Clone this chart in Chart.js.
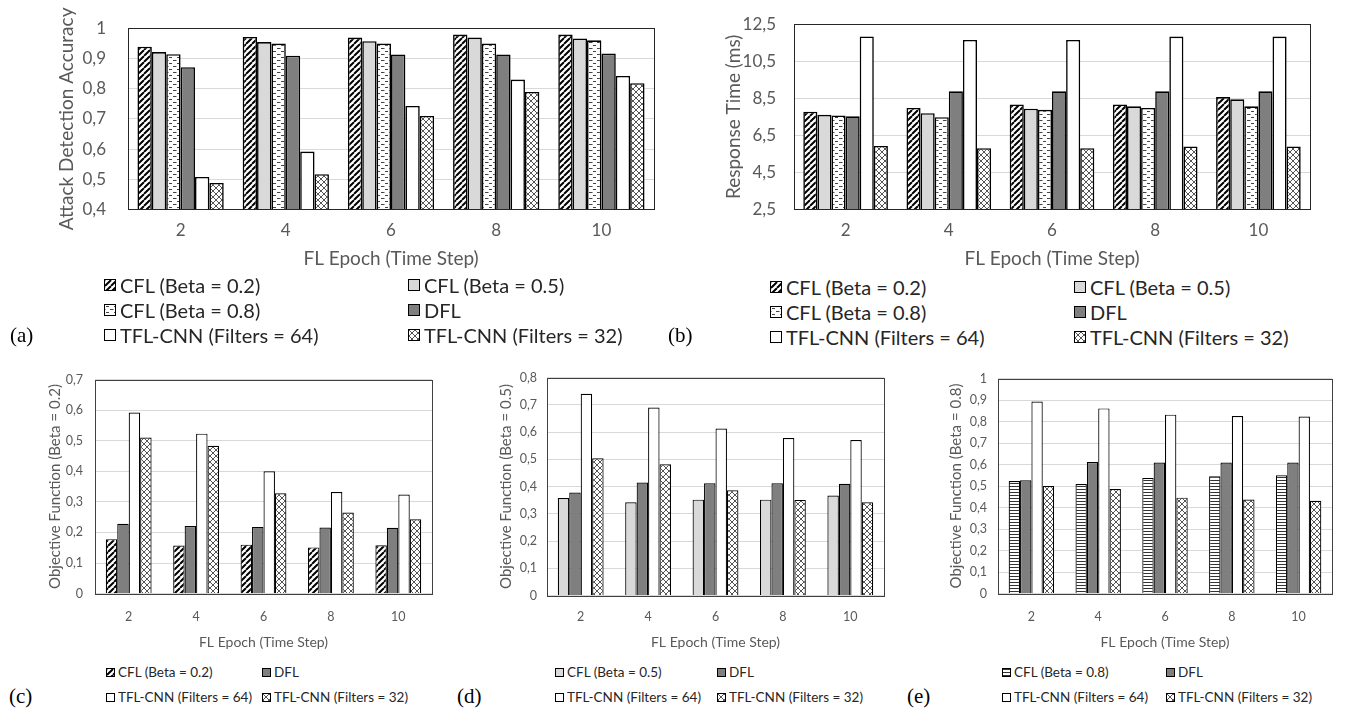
<!DOCTYPE html>
<html>
<head>
<meta charset="utf-8">
<script src="https://cdn.jsdelivr.net/npm/chart.js@4.4.1/dist/chart.umd.min.js"></script>
<style>
  html, body { margin: 0; padding: 0; background: #fff; }
  body { width: 1349px; height: 713px; position: relative; overflow: hidden; font-family: Lato, sans-serif; }
  canvas { position: absolute; }
  .leg { position: absolute; display: flex; align-items: center; white-space: nowrap; color: #262626; line-height: 1; }
  .sw { display: inline-block; box-sizing: border-box; border: 1.5px solid #000; background-repeat: repeat; }
  .tag { position: absolute; font-family: 'Liberation Serif', 'Times New Roman', serif; font-size: 21px; color: #000; line-height: 1; }
</style>
</head>
<body>
<script>
// ---------- data ----------
const epochs = ['2', '4', '6', '8', '10'];

// (a) attack detection accuracy
const accCfl02 = [0.939, 0.971, 0.969, 0.979, 0.979];
const accCfl05 = [0.921, 0.954, 0.957, 0.969, 0.966];
const accCfl08 = [0.914, 0.949, 0.949, 0.949, 0.960];
const accDfl   = [0.871, 0.909, 0.913, 0.913, 0.916];
const accTfl64 = [0.508, 0.592, 0.743, 0.830, 0.842];
const accTfl32 = [0.488, 0.517, 0.710, 0.789, 0.818];

// (b) response time (ms)
const rtCfl02 = [7.78, 7.98, 8.17, 8.17, 8.57];
const rtCfl05 = [7.61, 7.70, 7.94, 8.07, 8.45];
const rtCfl08 = [7.58, 7.48, 7.88, 7.98, 8.07];
const rtDfl   = [7.53, 8.88, 8.88, 8.88, 8.88];
const rtTfl64 = [11.84, 11.65, 11.65, 11.83, 11.83];
const rtTfl32 = [5.93, 5.81, 5.81, 5.91, 5.91];

// (c) objective function, beta = 0.2
const objCCfl   = [0.178, 0.157, 0.160, 0.151, 0.158];
const objCDfl   = [0.228, 0.221, 0.218, 0.216, 0.215];
const objCTfl64 = [0.592, 0.523, 0.400, 0.332, 0.324];
const objCTfl32 = [0.510, 0.483, 0.328, 0.265, 0.243];

// (d) objective function, beta = 0.5
const objDCfl   = [0.358, 0.342, 0.352, 0.352, 0.367];
const objDDfl   = [0.378, 0.415, 0.412, 0.412, 0.410];
const objDTfl64 = [0.740, 0.690, 0.613, 0.578, 0.571];
const objDTfl32 = [0.504, 0.482, 0.386, 0.351, 0.342];

// (e) objective function, beta = 0.8
const objECfl   = [0.523, 0.509, 0.538, 0.545, 0.550];
const objEDfl   = [0.527, 0.612, 0.609, 0.609, 0.609];
const objETfl64 = [0.893, 0.861, 0.832, 0.826, 0.823];
const objETfl32 = [0.500, 0.486, 0.446, 0.437, 0.432];

// tick labels
const accTicks  = [0.4, 0.5, 0.6, 0.7, 0.8, 0.9, 1];
const timeTicks = [2.5, 4.5, 6.5, 8.5, 10.5, 12.5];
const objTicksC = [0, 0.1, 0.2, 0.3, 0.4, 0.5, 0.6, 0.7];
const objTicksD = [0, 0.1, 0.2, 0.3, 0.4, 0.5, 0.6, 0.7, 0.8];
const objTicksE = [0, 0.1, 0.2, 0.3, 0.4, 0.5, 0.6, 0.7, 0.8, 0.9, 1];

const seriesNames = {
    cfl02: 'CFL (Beta = 0.2)',
    cfl05: 'CFL (Beta = 0.5)',
    cfl08: 'CFL (Beta = 0.8)',
    cfl08h: 'CFL (Beta = 0.8)',
    dfl: 'DFL',
    tfl64: 'TFL-CNN (Filters = 64)',
    tfl32: 'TFL-CNN (Filters = 32)'
};

// ---------- fills ----------
function makeTile(w, h, draw) {
    const c = document.createElement('canvas');
    c.width = w; c.height = h;
    const g = c.getContext('2d');
    g.fillStyle = '#fff';
    g.fillRect(0, 0, w, h);
    draw(g);
    return c;
}

const tiles = {
    hatch: makeTile(6, 6, g => {
        g.strokeStyle = '#000';
        g.lineWidth = 2;
        g.beginPath();
        [-6, 0, 6].forEach(o => { g.moveTo(o, 6); g.lineTo(o + 6, 0); });
        g.stroke();
    }),
    dash: makeTile(8, 6, g => {
        g.strokeStyle = '#444';
        g.lineWidth = 1;
        g.beginPath();
        g.moveTo(1, 1.5); g.lineTo(4, 1.5);
        g.moveTo(5, 4.5); g.lineTo(8, 4.5);
        g.moveTo(0, 4.5); g.lineTo(0.5, 4.5);
        g.stroke();
    }),
    hstripe: makeTile(4, 3, g => {
        g.fillStyle = '#333';
        g.fillRect(0, 0, 4, 1);
    }),
    cross: makeTile(6, 6, g => {
        g.strokeStyle = '#555';
        g.lineWidth = 1;
        g.beginPath();
        [-6, 0, 6].forEach(o => {
            g.moveTo(o, 6); g.lineTo(o + 6, 0);
            g.moveTo(o, 0); g.lineTo(o + 6, 6);
        });
        g.stroke();
    })
};

const fills = {
    cfl02: 'hatch',
    cfl05: '#d9d9d9',
    cfl08: 'dash',
    cfl08h: 'hstripe',
    dfl: '#7f7f7f',
    tfl64: '#ffffff',
    tfl32: 'cross'
};

function fillFor(key, ctx) {
    const f = fills[key];
    return tiles[f] ? ctx.createPattern(tiles[f], 'repeat') : f;
}

// plot frame
const framePlugin = {
    id: 'frame',
    afterDraw(chart, args, opts) {
        const { ctx, chartArea: a } = chart;
        ctx.save();
        ctx.strokeStyle = opts.color || '#000';
        ctx.lineWidth = opts.width || 1;
        ctx.strokeRect(Math.round(a.left) + 0.5, Math.round(a.top) + 0.5,
            Math.round(a.right - a.left), Math.round(a.bottom - a.top));
        ctx.restore();
    }
};

const fmt = v => String(v).replace('.', ',');

function makeChart(cfg) {
    const { box, plot } = cfg;
    const lhY = cfg.yTitleFont.size * 1.2;
    const lhX = cfg.xTitleFont.size * 1.2;
    const padLeft = cfg.yTitleX - lhY / 2 - 4 - box.x;
    const yWidth = plot.l - box.x - padLeft;
    const padTop = plot.t - box.y;
    const padRight = box.x + box.w - plot.r;
    const xBottom = cfg.xTitleY + lhX / 2 + 4;
    const xHeight = xBottom - plot.b;
    const xTickPad = cfg.xTickY - plot.b - cfg.tickFont.size * 1.2 / 2;

    const canvas = document.createElement('canvas');
    canvas.width = box.w;
    canvas.height = xBottom - box.y;
    canvas.style.left = box.x + 'px';
    canvas.style.top = box.y + 'px';
    document.body.appendChild(canvas);
    const ctx = canvas.getContext('2d');

    const datasets = cfg.series.map(s => ({
        label: seriesNames[s.key],
        data: s.data,
        backgroundColor: fillFor(s.key, ctx),
        borderColor: '#000',
        borderWidth: cfg.barBorder,
        barPercentage: 1,
        categoryPercentage: cfg.catPct
    }));

    return new Chart(ctx, {
        type: 'bar',
        data: { labels: epochs, datasets },
        plugins: [framePlugin],
        options: {
            responsive: false,
            animation: false,
            devicePixelRatio: 1,
            layout: { padding: { left: padLeft, top: padTop, right: padRight, bottom: 0 } },
            plugins: {
                legend: { display: false },
                tooltip: { enabled: false },
                frame: { color: cfg.frameColor, width: 1 }
            },
            scales: {
                x: {
                    grid: { display: false, drawTicks: false },
                    border: { display: false },
                    ticks: { color: '#595959', font: cfg.tickFont, padding: xTickPad, maxRotation: 0, autoSkip: false },
                    title: { display: true, text: 'FL Epoch (Time Step)', color: '#595959', font: cfg.xTitleFont, padding: { top: 4, bottom: 4 } },
                    afterFit: s => { s.height = xHeight; }
                },
                y: {
                    min: cfg.ticks[0],
                    max: cfg.ticks[cfg.ticks.length - 1],
                    grid: { color: '#d9d9d9', lineWidth: 1, drawTicks: false },
                    border: { display: false },
                    ticks: { color: '#595959', font: cfg.tickFont, padding: plot.l - cfg.tickRight, callback: v => fmt(v) },
                    afterBuildTicks: s => { s.ticks = cfg.ticks.map(v => ({ value: v })); },
                    title: { display: true, text: cfg.yTitle, color: '#595959', font: cfg.yTitleFont, padding: { top: 4, bottom: 4 } },
                    afterFit: s => { s.width = yWidth; }
                }
            }
        }
    });
}

function addLegend(keys, cols, rows, font, size, gap) {
    keys.forEach((key, i) => {
        const item = document.createElement('div');
        item.className = 'leg';
        item.style.left = cols[i % 2] + 'px';
        item.style.top = (rows[Math.floor(i / 2)] - 12) + 'px';
        item.style.height = '24px';
        item.style.font = font;
        const sw = document.createElement('span');
        sw.className = 'sw';
        sw.style.width = size + 'px';
        sw.style.height = size + 'px';
        sw.style.marginRight = gap + 'px';
        const f = fills[key];
        if (tiles[f]) sw.style.backgroundImage = 'url(' + tiles[f].toDataURL() + ')';
        else sw.style.background = f;
        item.appendChild(sw);
        item.appendChild(document.createTextNode(seriesNames[key]));
        document.body.appendChild(item);
    });
}

function addTag(text, x, y) {
    const t = document.createElement('div');
    t.className = 'tag';
    t.textContent = text;
    t.style.left = x + 'px';
    t.style.top = (y - 11) + 'px';
    document.body.appendChild(t);
}

const topTick = { family: 'Lato', size: 17 };
const topTitle = { family: 'Lato', size: 19 };
const botTick = { family: 'Lato', size: 12.5 };
const botXTitle = { family: 'Lato', size: 14 };
const botYTitle = { family: 'Lato', size: 15 };

// (a)
makeChart({
    box: { x: 0, y: -4, w: 680 }, plot: { l: 128, t: 8, r: 654, b: 210 },
    yTitle: 'Attack Detection Accuracy', yTitleX: 67, tickRight: 106,
    xTickY: 231, xTitleY: 259, ticks: accTicks,
    tickFont: topTick, xTitleFont: topTitle, yTitleFont: topTitle,
    catPct: 0.82, barBorder: 1.6, frameColor: '#262626',
    series: [
        { key: 'cfl02', data: accCfl02 }, { key: 'cfl05', data: accCfl05 },
        { key: 'cfl08', data: accCfl08 }, { key: 'dfl', data: accDfl },
        { key: 'tfl64', data: accTfl64 }, { key: 'tfl32', data: accTfl32 }
    ]
});

// (b)
makeChart({
    box: { x: 666, y: -4, w: 683 }, plot: { l: 794, t: 8, r: 1310, b: 210 },
    yTitle: 'Response Time (ms)', yTitleX: 734, tickRight: 776,
    xTickY: 231, xTitleY: 259, ticks: timeTicks,
    tickFont: topTick, xTitleFont: topTitle, yTitleFont: topTitle,
    catPct: 0.82, barBorder: 1.6, frameColor: '#262626',
    series: [
        { key: 'cfl02', data: rtCfl02 }, { key: 'cfl05', data: rtCfl05 },
        { key: 'cfl08', data: rtCfl08 }, { key: 'dfl', data: rtDfl },
        { key: 'tfl64', data: rtTfl64 }, { key: 'tfl32', data: rtTfl32 }
    ]
});

// (c)
makeChart({
    box: { x: 0, y: 360, w: 450 }, plot: { l: 95, t: 372, r: 432, b: 594 },
    yTitle: 'Objective Function (Beta = 0.2)', yTitleX: 55, tickRight: 83,
    xTickY: 617, xTitleY: 643, ticks: objTicksC,
    tickFont: botTick, xTitleFont: botXTitle, yTitleFont: botYTitle,
    catPct: 0.68, barBorder: 1.2, frameColor: '#404040',
    series: [
        { key: 'cfl02', data: objCCfl }, { key: 'dfl', data: objCDfl },
        { key: 'tfl64', data: objCTfl64 }, { key: 'tfl32', data: objCTfl32 }
    ]
});

// (d)
makeChart({
    box: { x: 450, y: 360, w: 450 }, plot: { l: 547, t: 371, r: 884, b: 596 },
    yTitle: 'Objective Function (Beta = 0.5)', yTitleX: 506, tickRight: 537,
    xTickY: 617, xTitleY: 643, ticks: objTicksD,
    tickFont: botTick, xTitleFont: botXTitle, yTitleFont: botYTitle,
    catPct: 0.68, barBorder: 1.2, frameColor: '#404040',
    series: [
        { key: 'cfl05', data: objDCfl }, { key: 'dfl', data: objDDfl },
        { key: 'tfl64', data: objDTfl64 }, { key: 'tfl32', data: objDTfl32 }
    ]
});

// (e)
makeChart({
    box: { x: 900, y: 360, w: 449 }, plot: { l: 998, t: 373, r: 1332, b: 594 },
    yTitle: 'Objective Function (Beta = 0.8)', yTitleX: 956, tickRight: 987,
    xTickY: 617, xTitleY: 643, ticks: objTicksE,
    tickFont: botTick, xTitleFont: botXTitle, yTitleFont: botYTitle,
    catPct: 0.68, barBorder: 1.2, frameColor: '#404040',
    series: [
        { key: 'cfl08h', data: objECfl }, { key: 'dfl', data: objEDfl },
        { key: 'tfl64', data: objETfl64 }, { key: 'tfl32', data: objETfl32 }
    ]
});

// legends and panel tags
const topFont = '20px Lato, sans-serif';
const botFont = '13.5px Lato, sans-serif';
const fullKeys = ['cfl02', 'cfl05', 'cfl08', 'dfl', 'tfl64', 'tfl32'];
addLegend(fullKeys, [104, 408], [285, 310, 335], topFont, 12, 4);
addLegend(fullKeys, [770, 1074], [287, 312, 337], topFont, 12, 4);
addLegend(['cfl02', 'dfl', 'tfl64', 'tfl32'], [106, 262], [672, 697], botFont, 9, 3);
addLegend(['cfl05', 'dfl', 'tfl64', 'tfl32'], [555, 717], [672, 697], botFont, 9, 3);
addLegend(['cfl08h', 'dfl', 'tfl64', 'tfl32'], [1002, 1166], [672, 697], botFont, 9, 3);
addTag('(a)', 10, 336);
addTag('(b)', 668, 336);
addTag('(c)', 9, 697);
addTag('(d)', 457, 697);
addTag('(e)', 907, 697);
</script>
</body>
</html>
